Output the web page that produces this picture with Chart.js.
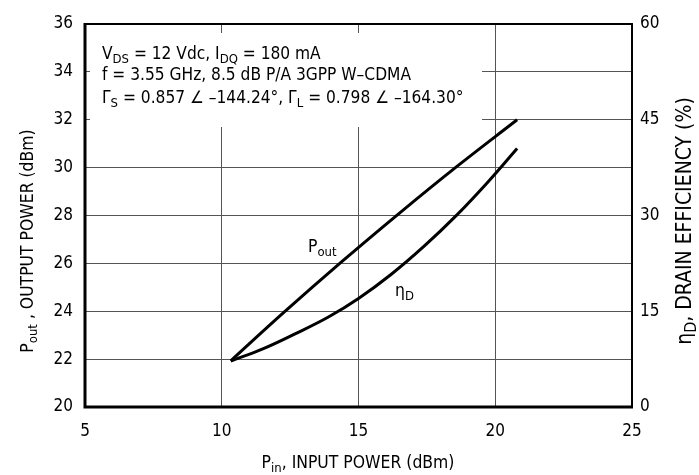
<!DOCTYPE html>
<html>
<head>
<meta charset="UTF-8">
<script src="https://cdn.jsdelivr.net/npm/chart.js@4"></script>
<style>
  * { margin: 0; padding: 0; }
  body { background: #fff; }
  #wrap { width: 699px; height: 475px; position: relative; }
</style>
</head>
<body>
<div id="wrap"><canvas id="c"></canvas></div>
<script>
// ── Data ────────────────────────────────────────────────────────────────────
const pinPout = [10.33, 12.3, 14.4, 16.5, 18.6, 20.8];
const poutDbm = [21.93, 23.98, 26.08, 28.1, 30.05, 32.0];
const pinEff  = [10.33, 11.5, 12.7, 13.9, 15.0, 16.2, 17.4, 18.6, 19.7, 20.8];
const effPct  = [7.2, 9.1, 11.5, 14.1, 17.0, 20.8, 25.2, 30.1, 35.1, 40.5];
const xTicks  = [5, 10, 15, 20, 25];
const yTicks  = [20, 22, 24, 26, 28, 30, 32, 34, 36];
const y1Ticks = [0, 15, 30, 45, 60];

const FAM = '"Liberation Sans Narrow", "Arial Narrow", "DejaVu Sans Condensed", sans-serif';
const font = px => px + 'px ' + FAM;

// draw text made of normal + subscript pieces
function rich(ctx, parts, x, y, size, align) {
  const sub = Math.round(size * 0.75);
  const w = parts.reduce((s, p) => { ctx.font = font(p.sub ? sub : size); return s + ctx.measureText(p.t).width; }, 0);
  let cx = align === 'center' ? x - w / 2 : x;
  ctx.textAlign = 'left';
  ctx.textBaseline = 'alphabetic';
  for (const p of parts) {
    ctx.font = font(p.sub ? sub : size);
    ctx.fillText(p.t, cx, p.sub ? y + size * 0.25 : y);
    cx += ctx.measureText(p.t).width;
  }
}

const decor = {
  id: 'decor',
  beforeDatasetsDraw(chart) {
    const ctx = chart.ctx;
    ctx.save();
    ctx.fillStyle = '#fff';
    ctx.fillRect(90, 33, 392, 94);
    ctx.restore();
  },
  afterDraw(chart) {
    const ctx = chart.ctx, a = chart.chartArea;
    ctx.save();
    ctx.strokeStyle = '#000';
    ctx.lineWidth = 2;
    ctx.beginPath();
    ctx.moveTo(a.left, a.top); ctx.lineTo(a.right, a.top); ctx.lineTo(a.right, a.bottom);
    ctx.stroke();
    ctx.lineWidth = 3;
    ctx.beginPath();
    ctx.moveTo(a.left, a.top - 1); ctx.lineTo(a.left, a.bottom); ctx.lineTo(a.right + 1, a.bottom);
    ctx.stroke();
    ctx.fillStyle = '#000';

    // condition text
    rich(ctx, [{t: 'V'}, {t: 'DS', sub: 1}, {t: ' = 12 Vdc, I'}, {t: 'DQ', sub: 1}, {t: ' = 180 mA'}], 102, 59, 17.2);
    rich(ctx, [{t: 'f = 3.55 GHz, 8.5 dB P/A 3GPP W\u2013CDMA'}], 102, 80, 17.2);
    rich(ctx, [{t: '\u0393'}, {t: 'S', sub: 1}, {t: ' = 0.857 \u2220 \u2013144.24\u00b0, \u0393'}, {t: 'L', sub: 1},
               {t: ' = 0.798 \u2220 \u2013164.30\u00b0'}], 102, 103, 17.2);

    // curve labels
    rich(ctx, [{t: 'P'}, {t: 'out', sub: 1}], 308, 252, 17.4);
    rich(ctx, [{t: '\u03b7'}, {t: 'D', sub: 1}], 395, 296, 17.4);

    // axis titles
    rich(ctx, [{t: 'P'}, {t: 'in', sub: 1}, {t: ', INPUT POWER (dBm)'}], 358, 468, 17.4, 'center');
    ctx.save();
    ctx.translate(33, 241);
    ctx.rotate(-Math.PI / 2);
    rich(ctx, [{t: 'P'}, {t: 'out', sub: 1}, {t: ' , OUTPUT POWER (dBm)'}], 0, 0, 17.4, 'center');
    ctx.restore();
    ctx.save();
    ctx.translate(691, 221);
    ctx.rotate(-Math.PI / 2);
    rich(ctx, [{t: '\u03b7'}, {t: 'D', sub: 1}, {t: ', DRAIN EFFICIENCY (%)'}], 0, 0, 21, 'center');
    ctx.restore();
    ctx.restore();
  }
};

const tickFont = { family: FAM, size: 17 };
const gridCol = '#555';

new Chart(document.getElementById('c'), {
  type: 'line',
  data: {
    datasets: [
      { label: 'Pout', data: pinPout.map((x, i) => ({ x, y: poutDbm[i] })), yAxisID: 'y',
        borderColor: '#000', borderWidth: 3, pointRadius: 0, tension: 0.4, fill: false },
      { label: 'Eff', data: pinEff.map((x, i) => ({ x, y: effPct[i] })), yAxisID: 'y1',
        borderColor: '#000', borderWidth: 3, pointRadius: 0, tension: 0.4, fill: false }
    ]
  },
  options: {
    responsive: true,
    maintainAspectRatio: false,
    animation: false,
    layout: { padding: { top: 24, right: 0, left: 0, bottom: 0 } },
    plugins: { legend: { display: false }, tooltip: { enabled: false } },
    scales: {
      x: {
        type: 'linear', min: 5, max: 25,
        afterBuildTicks: s => { s.ticks = xTicks.map(v => ({ value: v })); },
        afterFit: s => { s.height = 68; },
        ticks: { font: tickFont, color: '#000', padding: 14, maxRotation: 0 },
        grid: { color: gridCol, lineWidth: 1, drawTicks: false },
        border: { display: false }
      },
      y: {
        position: 'left', min: 20, max: 36,
        afterBuildTicks: s => { s.ticks = yTicks.map(v => ({ value: v })); },
        afterFit: s => { s.width = 85; },
        ticks: { font: tickFont, color: '#000', padding: 12 },
        grid: { color: gridCol, lineWidth: 1, drawTicks: false },
        border: { display: false }
      },
      y1: {
        position: 'right', min: 0, max: 60,
        afterBuildTicks: s => { s.ticks = y1Ticks.map(v => ({ value: v })); },
        afterFit: s => { s.width = 67; },
        ticks: { font: tickFont, color: '#000', padding: 8 },
        grid: { drawOnChartArea: false, drawTicks: false },
        border: { display: false }
      }
    }
  },
  plugins: [decor]
});
</script>
</body>
</html>
